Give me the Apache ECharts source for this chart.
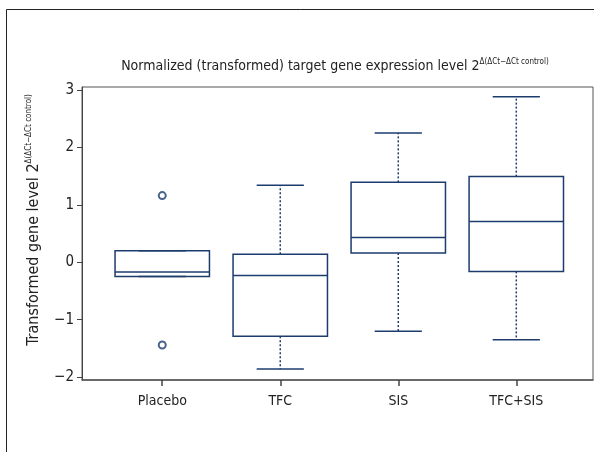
<!DOCTYPE html>
<html><head><meta charset="utf-8">
<script src="https://cdn.jsdelivr.net/npm/echarts@6/dist/echarts.min.js"></script>
<style>html,body{margin:0;padding:0;background:#fff}#c{width:594px;height:452px}</style>
</head><body><div id="c"></div>
<script>
const categories = ['Placebo', 'TFC', 'SIS', 'TFC+SIS'];
const positions = [1, 2, 3, 4];
// [lowerWhisker, Q1, median, Q3, upperWhisker]
const boxStats = [
  [-0.25, -0.25, -0.17, 0.20, 0.20],
  [-1.86, -1.29, -0.23, 0.14, 1.34],
  [-1.20, 0.16, 0.43, 1.39, 2.25],
  [-1.35, -0.16, 0.71, 1.49, 2.88]
];
const outliers = [[1, 1.16], [1, -1.44]];
const yTicks = [-2, -1, 0, 1, 2, 3];

const FONT = '"DejaVu Sans Condensed", "Liberation Sans Narrow", sans-serif';
const NAVY = '#1d3c6e';
const BOXW = 0.8, CAPW = 0.4;

const chart = echarts.init(document.getElementById('c'), null, {renderer: 'canvas'});
const boxData = boxStats.map((s, i) => [positions[i], ...s]);

chart.setOption({
  animation: false,
  backgroundColor: '#fff',
  graphic: [{
    type: 'rect', shape: {x: 6.5, y: 9.5, width: 620, height: 500},
    style: {fill: 'none', stroke: '#222', lineWidth: 1}, silent: true
  }, {
    type: 'text', x: 34, y: 220, rotation: Math.PI / 2, silent: true,
    style: {
      text: '{m|Transformed gene level 2}{s|Δ(ΔCt−ΔCt control)}',
      align: 'center', verticalAlign: 'middle',
      rich: {
        m: {fontFamily: FONT, fontSize: 16, fill: '#222'},
        s: {fontFamily: FONT, fontSize: 8, fill: '#222', padding: [0, 0, 10, 0]}
      }
    }
  }],
  title: {
    text: '{m|Normalized (transformed) target gene expression level 2}{s|Δ(ΔCt−ΔCt control)}',
    left: 330, top: 53, textAlign: 'center',
    textStyle: {
      fontWeight: 'normal',
      rich: {
        m: {fontFamily: FONT, fontSize: 14, fontWeight: 'normal', color: '#222'},
        s: {fontFamily: FONT, fontSize: 8, fontWeight: 'normal', color: '#222', padding: [0, 0, 9, 0]}
      }
    }
  },
  grid: {left: 82, top: 87, right: 1, bottom: 72, show: true, borderColor: '#555', borderWidth: 1},
  xAxis: {
    type: 'value', min: 0.32, max: 4.65,
    splitLine: {show: false},
    axisLine: {show: true, onZero: false, lineStyle: {color: '#555', width: 1.5}},
    axisTick: {show: true, length: 6, inside: false, customValues: positions, lineStyle: {color: '#444', width: 1.5}},
    axisLabel: {customValues: positions, margin: 14, fontFamily: FONT, fontSize: 14, color: '#222',
      formatter: v => categories[positions.indexOf(Math.round(v))] || ''}
  },
  yAxis: {
    type: 'value', min: -2.05, max: 3.05,
    splitLine: {show: false},
    axisLine: {show: true, onZero: false, lineStyle: {color: '#444', width: 1}},
    axisTick: {show: true, length: 5, customValues: yTicks, lineStyle: {color: '#444', width: 1}},
    axisLabel: {customValues: yTicks, margin: 8, fontFamily: FONT, fontSize: 15, color: '#222',
      formatter: v => (v < 0 ? '−' + Math.abs(v) : String(v))}
  },
  series: [{
    type: 'custom',
    data: boxData,
    encode: {x: 0, y: [1, 2, 3, 4, 5]},
    renderItem: function (params, api) {
      const x = api.value(0);
      const lw = api.value(1), q1 = api.value(2), med = api.value(3), q3 = api.value(4), uw = api.value(5);
      const pL = api.coord([x - BOXW / 2, q3]);
      const pR = api.coord([x + BOXW / 2, q1]);
      const c = (v) => api.coord([x, v]);
      const cl = (v) => api.coord([x - CAPW / 2, v]);
      const cr = (v) => api.coord([x + CAPW / 2, v]);
      const line = (a, b, dash) => ({
        type: 'line', shape: {x1: a[0], y1: a[1], x2: b[0], y2: b[1]},
        style: {stroke: NAVY, lineWidth: 1.5, lineDash: dash || null}
      });
      const ch = [];
      ch.push(line(c(q3), c(uw), [2, 2]));
      ch.push(line(c(q1), c(lw), [2, 2]));
      ch.push(line(cl(uw), cr(uw)));
      ch.push(line(cl(lw), cr(lw)));
      ch.push({type: 'rect', shape: {x: pL[0], y: pL[1], width: pR[0] - pL[0], height: pR[1] - pL[1]},
        style: {fill: 'none', stroke: NAVY, lineWidth: 1.5}});
      const m1 = api.coord([x - BOXW / 2, med]), m2 = api.coord([x + BOXW / 2, med]);
      ch.push(line(m1, m2));
      return {type: 'group', children: ch};
    }
  }, {
    type: 'scatter',
    data: outliers,
    symbol: 'emptyCircle', symbolSize: 7,
    itemStyle: {color: NAVY, borderColor: NAVY, borderWidth: 1.5}
  }]
});
</script></body></html>
